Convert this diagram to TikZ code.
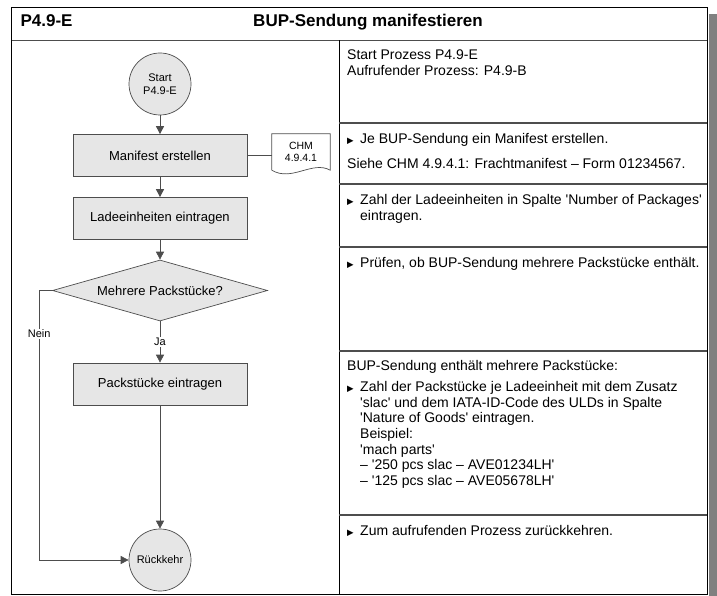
\documentclass[tikz,border=0pt]{standalone}
\usepackage{fontspec}
\setmainfont{Liberation Sans}
\newfontfamily\symfont{DejaVu Sans}
\usetikzlibrary{shapes.geometric,arrows.meta}

\definecolor{boxgray}{HTML}{E6E6E6}
\definecolor{linegray}{HTML}{4D4D4D}
\definecolor{shadowgray}{HTML}{808080}

\newcommand{\bul}{\makebox[13pt][l]{\symfont\fontsize{8.5}{9}\selectfont ▶}}
\newcommand{\ind}{\hspace*{13pt}}
\newcommand{\sq}{\textquotesingle}

\begin{document}
\begin{tikzpicture}[x=1pt, y=-1pt,
    prozess/.style={draw=linegray, line width=0.7pt, fill=boxgray, minimum width=174pt, minimum height=42pt, inner sep=0pt, font=\fontsize{13}{15}\selectfont},
    terminal/.style={draw=linegray, line width=0.7pt, fill=boxgray, circle, minimum size=62pt, inner sep=0pt, align=center, font=\fontsize{11}{13}\selectfont},
    entscheidung/.style={draw=linegray, line width=0.7pt, fill=boxgray, diamond, aspect=3.5, minimum width=215pt, minimum height=61pt, inner sep=0pt, font=\fontsize{13}{15}\selectfont},
    flow/.style={draw=linegray, line width=0.7pt, -{Triangle[width=8pt,length=8pt]}},
    kante/.style={fill=white, inner sep=1pt, font=\fontsize{11}{13}\selectfont},
    info/.style={anchor=north west, inner sep=0pt, align=left, font=\fontsize{14}{15.7}\selectfont},
    teiler/.style={draw=linegray, line width=1.5pt}]
    \useasboundingbox (0,0) rectangle (717,596);

    \fill[shadowgray] (709,14) rectangle (717,596);
    \draw[line width=1pt] (11.5,7.5) rectangle (707,594);
    \draw[teiler] (11.5,40.5) -- (707,40.5);
    \draw[line width=1pt] (339,40.5) -- (339,594);
    \foreach \y in {123,184,247,351,515}
        \draw[teiler] (339,\y) -- (707,\y);

    \node[anchor=base west, font=\bfseries\fontsize{17}{20}\selectfont] (nummer) at (17,27) {P4.9-E};
    \node[anchor=base, font=\bfseries\fontsize{17}{20}\selectfont]      (titel)  at (368,27) {BUP-Sendung manifestieren};

    \node[terminal]     (start)    at (160,84)    {Start\\P4.9-E};
    \node[prozess]      (manifest) at (160,155.5) {Manifest erstellen};
    \node[prozess]      (lade)     at (160,218.5) {Ladeeinheiten eintragen};
    \node[entscheidung] (frage)    at (160,290.5) {Mehrere Packstücke?};
    \node[prozess]      (pack)     at (160,384)   {Packstücke eintragen};
    \node[terminal]     (rueck)    at (160,560)   {Rückkehr};
    \node[align=center, inner sep=0pt, minimum width=58pt, minimum height=36pt, font=\fontsize{10.5}{12.5}\selectfont] (chm) at (301,152) {CHM\\4.9.4.1};
    \draw[linegray, line width=0.7pt] (chm.south west) -- (chm.north west) -- (chm.north east) -- (chm.south east)
        .. controls +(-18,-10) and +(20,12) .. (chm.south west);

    \draw[linegray, line width=0.7pt] (manifest.east) -- (manifest.east -| chm.west);
    \draw[flow] (start) -- (manifest);
    \draw[flow] (manifest) -- (lade);
    \draw[flow] (lade) -- (frage);
    \draw[flow] (frage) -- node[kante] (ja) {Ja} (pack);
    \draw[flow] (pack) -- (rueck);
    \draw[flow] (frage.west) -- ++(-13,0) |- node[kante, pos=0.08] (nein) {Nein} (rueck.west);

    \node[info] (r1) at (347,50)  {Start Prozess P4.9-E\\Aufrufender Prozess: P4.9-B};
    \node[info] (r2) at (347,133) {\bul Je BUP-Sendung ein Manifest erstellen.\\[9.3pt]Siehe CHM 4.9.4.1: Frachtmanifest – Form 01234567.};
    \node[info] (r3) at (347,194) {\bul Zahl der Ladeeinheiten in Spalte \sq Number of Packages\sq\\\ind eintragen.};
    \node[info] (r4) at (347,257) {\bul Prüfen, ob BUP-Sendung mehrere Packstücke enthält.};
    \node[info] (r5) at (347,360) {BUP-Sendung enthält mehrere Packstücke:\\[5.3pt]\bul Zahl der Packstücke je Ladeeinheit mit dem Zusatz\\\ind\sq slac\sq{} und dem IATA-ID-Code des ULDs in Spalte\\\ind\sq Nature of Goods\sq{} eintragen.\\\ind Beispiel:\\\ind\sq mach parts\sq\\\ind – \sq 250 pcs slac – AVE01234LH\sq\\\ind – \sq 125 pcs slac – AVE05678LH\sq};
    \node[info] (r6) at (347,525) {\bul Zum aufrufenden Prozess zurückkehren.};
\end{tikzpicture}
\end{document}
